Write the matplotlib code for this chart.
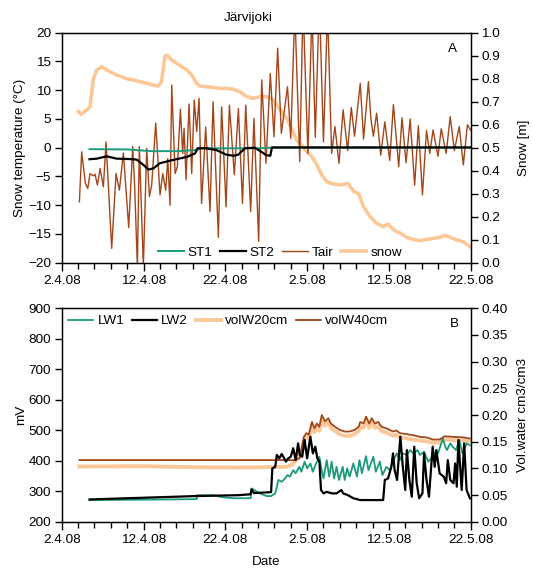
import matplotlib

matplotlib.use("Agg")
import matplotlib.dates as mdates
import matplotlib.pyplot as plt
import numpy as np
import pandas as pd
from matplotlib.ticker import FixedLocator, FuncFormatter

plt.rcParams["font.family"] = ["Liberation Sans", "DejaVu Sans"]
plt.rcParams["font.size"] = 9.7

START = pd.Timestamp("2008-04-02")
END = pd.Timestamp("2008-05-22")

# ---- panel A: snow temperature, air temperature, snow depth (day offset from 2.4.08)
tair_days = [2.16, 2.44, 2.89, 3.18, 3.46, 3.87, 4.07, 4.36, 4.69, 5.09, 5.42, 6.11, 6.64, 7.05,
             7.54, 8.19, 8.68, 8.92, 9.25, 9.49, 9.98, 10.39, 10.72, 11.0, 11.49, 12.02, 12.35,
             12.71, 12.96, 13.24, 13.45, 13.86, 14.14, 14.51, 14.79, 14.96, 15.2, 15.57, 15.89,
             16.2, 16.5, 16.79, 17.1, 17.6, 18.13, 18.5, 19.15, 19.55, 20.09, 20.5, 21.1, 21.6,
             22.1, 22.5, 23.1, 23.5, 24.08, 24.45, 24.97, 25.5, 25.95, 26.4, 26.85, 27.6, 28.0,
             28.5, 29.1, 29.5, 30.1, 30.6, 31.0, 31.5, 32.0, 32.5, 33.0, 33.4, 33.9, 34.4, 34.95,
             35.4, 35.8, 36.5, 36.9, 37.5, 37.8, 38.1, 38.5, 39.0, 39.5, 40.1, 40.55, 41.2, 41.6,
             42.1, 42.6, 43.15, 43.6, 44.1, 44.6, 45.0, 45.4, 46.0, 46.4, 47.0, 47.5, 48.0, 48.6,
             49.1, 49.6, 50.0]
tair_vals = [-9.4, -0.7, -6.2, -7.1, -4.5, -4.9, -4.6, -6.5, -3.6, -6.8, 1.0, -17.5, -4.5, -7.4,
             -0.9, -13.9, 0.2, -6.8, -20.7, 0.2, -20.7, -0.1, -8.5, -6.5, 4.3, -8.2, -4.5,
             -7.4, -1.9, -10.0, 10.9, -4.5, -3.3, 6.7, -1.0, 3.4, -5.6, 7.6, -4.5,
             8.3, 2.8, 8.6, -9.7, 3.6, -11.1, 8.0, -15.6, 7.1, -10.3, 7.4, -4.7, 6.8,
             -9.7, 7.4, -11.1, 5.1, -16.3, 11.8, -2.7, 12.9, 1.9, 17.3, 2.5, 10.6, 1.6,
             24.0, -2.4, 25.0, -1.0, 24.0, 1.8, 26.0, 1.0, 24.0, -1.0, 3.7, -2.7, 6.6, -0.5,
             7.0, 2.0, 11.2, 1.5, 11.5, 5.0, 2.0, 6.0, -1.3, 4.5, -2.2, 7.5, -3.3, 5.2,
             -2.6, 5.0, -6.5, 3.8, -8.2, 3.0, -1.0, 3.1, -1.5, 3.3, -1.0, 5.4, -0.5, 3.7,
             -3.0, 4.0, 3.0]

st1_days = [3.4, 8.0, 11.0, 14.0, 16.5, 17.0, 20.0, 24.0, 25.7, 50.0]
st1_vals = [-0.25, -0.3, -0.6, -0.6, -0.4, -0.1, -0.1, -0.1, 0.0, 0.0]

st2_days = [3.4, 4.3, 5.5, 6.7, 8.8, 9.2, 10.0, 10.6, 11.2, 12.0, 13.7, 15.3, 16.3, 16.6,
            17.7, 18.9, 20.1, 21.0, 21.6, 22.4, 23.6, 24.4, 25.0, 25.5, 25.7, 50.0]
st2_vals = [-2.0, -1.9, -1.5, -1.9, -2.0, -2.1, -3.0, -3.8, -3.6, -2.7, -2.1, -1.6, -1.0, -0.1,
            -0.1, -0.4, -1.2, -1.4, -1.2, -0.1, 0.0, -0.7, -1.3, -1.4, 0.05, 0.05]

snow_days = [2.04, 2.4, 2.7, 3.06, 3.46, 3.87, 4.28, 4.89, 5.5, 6.72, 7.95, 8.76, 9.58, 10.4,
             11.2, 11.8, 12.2, 12.6, 12.84, 13.45, 14.06, 14.7, 15.3, 15.9, 16.5, 16.9, 17.7,
             18.5, 19.4, 20.2, 21.0, 21.8, 22.6, 23.4, 24.2, 25.05, 25.9, 26.7, 27.5, 28.1,
             28.7, 29.3, 29.95, 30.6, 31.2, 31.8, 32.4, 33.2, 34.2, 35.0, 35.7, 36.3, 36.9,
             37.7, 38.5, 39.3, 39.9, 40.6, 41.4, 42.2, 43.0, 43.8, 44.6, 45.4, 46.2, 46.8,
             47.5, 48.3, 49.1, 49.9]
snow_vals = [0.657, 0.645, 0.655, 0.664, 0.678, 0.80, 0.838, 0.852, 0.838, 0.816, 0.80, 0.794,
             0.787, 0.78, 0.772, 0.768, 0.787, 0.896, 0.903, 0.881, 0.867, 0.852, 0.838, 0.816,
             0.78, 0.768, 0.765, 0.762, 0.758, 0.758, 0.754, 0.743, 0.722, 0.714, 0.722, 0.722,
             0.707, 0.664, 0.628, 0.584, 0.533, 0.512, 0.483, 0.461, 0.425, 0.381, 0.352,
             0.342, 0.338, 0.345, 0.309, 0.301, 0.243, 0.2, 0.171, 0.157, 0.168, 0.142, 0.128,
             0.11, 0.101, 0.096, 0.101, 0.106, 0.11, 0.119, 0.11, 0.099, 0.091, 0.07]

# ---- panel B: sensor output (mV) and volumetric water content
lw1_days = [3.4, 9.0, 16.5, 16.55, 18.5, 19.7, 21.0, 23.1, 23.2, 24.24, 25.06, 25.6, 26.1,
            26.5, 26.9, 27.3, 27.6, 27.9, 28.3, 28.6, 29.05, 29.3, 29.7, 30.0, 30.4, 30.7,
            31.1, 31.5, 31.7, 32.0, 32.4, 32.7, 33.0, 33.3, 33.6, 33.9, 34.35, 34.6, 34.9,
            35.2, 35.65, 36.1, 36.4, 36.7, 37.2, 37.5, 38.1, 38.4, 38.9, 39.2, 39.7, 40.1,
            40.5, 40.95, 41.35, 41.7, 42.2, 42.6, 43.0, 43.5, 43.8, 44.3, 44.8, 45.35, 45.75,
            46.0, 46.6, 46.9, 47.1, 47.5, 47.8, 48.2, 48.6, 49.0, 49.5, 49.9]
lw1_vals = [271, 272, 274, 287, 287, 280, 277, 277, 309, 293, 284, 284, 293,
            337, 331, 342, 353, 348, 369, 359, 380, 364, 397, 375, 391, 364,
            391, 413, 380, 342, 402, 348, 397, 342, 380, 337, 380, 337, 375,
            348, 391, 348, 402, 359, 415, 369, 413, 364, 397, 353, 380, 369,
            397, 424, 402, 424, 419, 435, 424, 435, 419, 430, 397, 413, 430,
            424, 473, 446, 435, 457, 446, 435, 468, 424, 457, 451]

lw2_days = [3.4, 16.3, 21.6, 23.1, 23.2, 23.5, 25.6, 25.75, 26.1, 26.3, 26.6, 26.9, 27.2,
            27.4, 27.7, 28.0, 28.3, 28.6, 28.9, 29.1, 29.4, 29.7, 30.0, 30.4, 30.7, 31.0,
            31.25, 31.5, 31.7, 32.0, 32.4, 33.0, 33.6, 34.2, 34.4, 35.0, 35.65, 36.5, 38.1,
            39.3, 39.5, 39.9, 40.3, 40.5, 40.7, 41.0, 41.4, 41.7, 42.0, 42.2, 42.5, 42.8,
            43.1, 43.4, 43.7, 44.1, 44.3, 44.6, 44.9, 45.35, 45.6, 45.8, 46.2, 46.45, 46.7,
            47.0, 47.2, 47.5, 47.9, 48.1, 48.3, 48.5, 48.9, 49.2, 49.5, 49.9]
lw2_vals = [273, 284, 287, 290, 306, 294, 297, 375, 380, 419, 408, 422, 408,
            397, 408, 413, 441, 402, 457, 419, 413, 468, 408, 479, 424, 446,
            408, 397, 304, 293, 298, 293, 293, 304, 293, 287, 277, 271, 271,
            271, 337, 342, 380, 424, 369, 337, 479, 380, 304, 435, 337, 282,
            446, 326, 277, 293, 424, 337, 282, 446, 380, 435, 359, 353, 348,
            326, 402, 337, 326, 391, 315, 468, 304, 457, 304, 277]

vol40_days = [2.16, 28.5, 29.1, 29.6, 29.9, 30.2, 30.6, 30.9, 31.2, 31.5, 31.8, 32.2, 32.6,
              32.9, 33.4, 34.0, 34.6, 35.2, 35.8, 36.3, 36.5, 36.9, 37.2, 37.6, 37.9, 38.3,
              38.7, 39.1, 39.7, 40.5, 40.9, 41.35, 42.2, 43.0, 43.8, 44.6, 45.4, 46.2, 46.8,
              47.9, 49.1, 49.9]
vol40_vals = [0.1155, 0.1155, 0.119, 0.159, 0.166, 0.163, 0.187, 0.175, 0.184, 0.178, 0.200,
              0.188, 0.194, 0.184, 0.178, 0.172, 0.169, 0.169, 0.172, 0.178, 0.187, 0.184,
              0.197, 0.184, 0.194, 0.184, 0.187, 0.178, 0.175, 0.169, 0.171, 0.166, 0.164,
              0.162, 0.159, 0.158, 0.154, 0.154, 0.160, 0.159, 0.158, 0.156]

vol20_days = [2.16, 10.0, 17.0, 22.0, 27.5, 28.2, 28.8, 29.3, 29.6, 29.9, 30.2, 30.6, 30.9,
              31.2, 31.5, 31.8, 32.2, 32.6, 32.9, 33.4, 34.0, 34.6, 35.2, 35.8, 36.3, 36.5,
              36.9, 37.2, 37.6, 37.9, 38.3, 38.7, 39.1, 39.7, 40.5, 40.9, 41.35, 42.2, 43.0,
              43.8, 44.6, 45.4, 46.2, 46.8, 47.9, 49.1, 49.9]
vol20_vals = [0.1035, 0.104, 0.102, 0.1015, 0.103, 0.107, 0.118, 0.130, 0.150, 0.158, 0.156,
              0.178, 0.168, 0.176, 0.170, 0.190, 0.180, 0.186, 0.176, 0.170, 0.164, 0.161,
              0.161, 0.164, 0.170, 0.179, 0.176, 0.189, 0.176, 0.186, 0.176, 0.179, 0.170,
              0.167, 0.161, 0.163, 0.158, 0.156, 0.154, 0.152, 0.151, 0.148, 0.148, 0.154,
              0.153, 0.152, 0.151]

TEAL = "#1b9a7c"
BROWN = "#a3461a"
PEACH = "#fcc897"


def to_dates(days):
    """
    Converts day offsets from 2.4.08 into timestamps.

    :param days: List of day offsets.

    :return: DatetimeIndex.
    """
    return START + pd.to_timedelta(np.asarray(days, dtype=float), unit="D")


def style_date_axis(ax):
    """
    Puts the 2.4.08 style labels every 10 days and minor ticks every 2 days.
    """
    major = mdates.date2num(pd.date_range(START, END, freq="10D"))
    minor = mdates.date2num(pd.date_range(START, END, freq="2D"))
    ax.xaxis.set_major_locator(FixedLocator(major))
    ax.xaxis.set_minor_locator(FixedLocator(minor))
    ax.xaxis.set_major_formatter(
        FuncFormatter(lambda v, p: "{0.day}.{0.month}.{0:%y}".format(mdates.num2date(v)))
    )
    ax.set_xlim(START, END)
    ax.tick_params(axis="x", which="major", direction="out", length=6, width=1, pad=3)
    ax.tick_params(axis="x", which="minor", direction="out", length=4, width=1)
    ax.tick_params(axis="y", direction="out", length=5, width=1, pad=2.5)
    for s in ax.spines.values():
        s.set_linewidth(1)


fig = plt.figure(figsize=(5.33, 5.68), dpi=100)

# ---------------- panel A
ax1 = fig.add_axes([0.1158, 0.5375, 0.7673, 0.4049])
ax1r = ax1.twinx()
ax1.set_zorder(ax1r.get_zorder() + 1)
ax1.patch.set_visible(False)

h_snow, = ax1r.plot(to_dates(snow_days), snow_vals, color=PEACH, lw=2.6, label="snow")
h_tair, = ax1.plot(to_dates(tair_days), tair_vals, color=BROWN, lw=1.0, label="Tair")
h_st1, = ax1.plot(to_dates(st1_days), st1_vals, color=TEAL, lw=1.4, label="ST1")
h_st2, = ax1.plot(to_dates(st2_days), st2_vals, color="black", lw=1.6, label="ST2")

ax1.set_ylim(-20, 20)
ax1.set_yticks(np.arange(-20, 21, 5))
ax1r.set_ylim(0, 1.0)
ax1r.set_yticks(np.arange(0, 1.01, 0.1))
ax1r.yaxis.set_major_formatter(FuncFormatter(lambda v, p: f"{v:.1f}"))
ax1r.tick_params(axis="y", direction="out", length=5, width=1, pad=2.5)
style_date_axis(ax1)
ax1.set_ylabel("Snow temperature (\u00b0C)", labelpad=2)
ax1r.set_ylabel("Snow [m]", labelpad=13)
ax1.text(0.955, 0.93, "A", transform=ax1.transAxes, ha="center", va="center")
ax1.legend(handles=[h_st1, h_st2, h_tair, h_snow], loc="center", bbox_to_anchor=(0.534, 0.045),
           ncol=4, frameon=False, handlelength=1.9, handletextpad=0.3, columnspacing=0.55,
           borderaxespad=0)

# ---------------- panel B
ax2 = fig.add_axes([0.1158, 0.0815, 0.7673, 0.3757])
ax2r = ax2.twinx()
ax2.set_zorder(ax2r.get_zorder() + 1)
ax2.patch.set_visible(False)

h_v20, = ax2r.plot(to_dates(vol20_days), vol20_vals, color=PEACH, lw=2.8, label="volW20cm")
h_v40, = ax2r.plot(to_dates(vol40_days), vol40_vals, color=BROWN, lw=1.3, label="volW40cm")
h_lw1, = ax2.plot(to_dates(lw1_days), lw1_vals, color=TEAL, lw=1.3, label="LW1")
h_lw2, = ax2.plot(to_dates(lw2_days), lw2_vals, color="black", lw=1.6, label="LW2")

ax2.set_ylim(200, 900)
ax2.set_yticks(np.arange(200, 901, 100))
ax2r.set_ylim(0, 0.40)
ax2r.set_yticks(np.arange(0, 0.401, 0.05))
ax2r.yaxis.set_major_formatter(FuncFormatter(lambda v, p: f"{v:.2f}"))
ax2r.tick_params(axis="y", direction="out", length=5, width=1, pad=2.5)
style_date_axis(ax2)
ax2.set_ylabel("mV", labelpad=1)
ax2r.set_ylabel("Vol.water cm3/cm3", labelpad=7)
ax2.set_xlabel("Date", labelpad=7)
ax2.text(0.96, 0.925, "B", transform=ax2.transAxes, ha="center", va="center")
ax2.legend(handles=[h_lw1, h_lw2, h_v20, h_v40], loc="center", bbox_to_anchor=(0.407, 0.94),
           ncol=4, frameon=False, handlelength=1.9, handletextpad=0.3, columnspacing=0.55,
           borderaxespad=0)

fig.text(248 / 533, 1 - 18 / 568, "J\u00e4rvijoki", ha="center", va="center")

fig.savefig("out.png", dpi=100)
